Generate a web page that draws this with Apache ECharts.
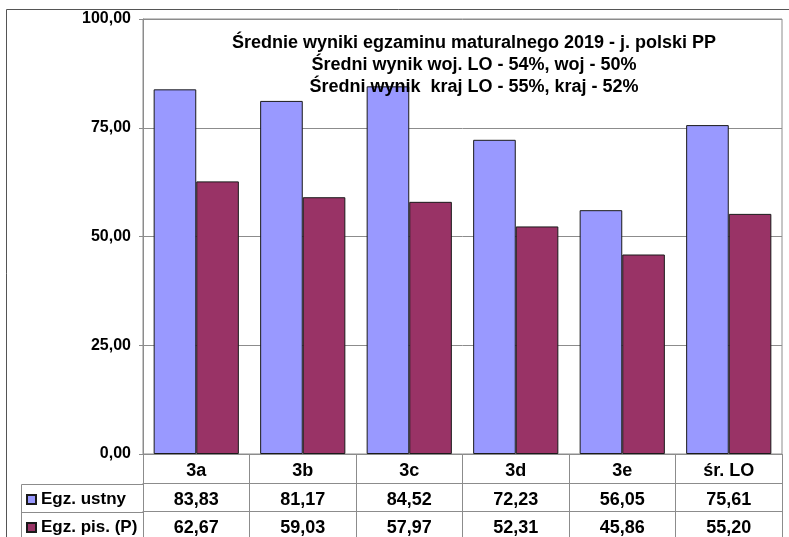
<!DOCTYPE html>
<html lang="pl">
<head>
<meta charset="UTF-8">
<title>Średnie wyniki egzaminu maturalnego 2019</title>
<script src="https://cdn.jsdelivr.net/npm/echarts@6/dist/echarts.min.js"></script>
<style>
  html, body { margin: 0; padding: 0; background: #fff; }
  #chart { width: 789px; height: 537px; }
</style>
</head>
<body>
<div id="chart"></div>
<script>
// dane
var klasy = ['3a', '3b', '3c', '3d', '3e', 'śr. LO'];
var ustny = [83.83, 81.17, 84.52, 72.23, 56.05, 75.61];
var pisemny = [62.67, 59.03, 57.97, 52.31, 45.86, 55.20];
var nazwySerii = ['Egz. ustny', 'Egz. pis. (P)'];
var yTicks = { min: 0, max: 100, step: 25 };
var tytul = 'Średnie wyniki egzaminu maturalnego 2019 - j. polski PP\n' +
            'Średni wynik woj. LO - 54%, woj - 50%\n' +
            'Średni wynik  kraj LO - 55%, kraj - 52%';

var FONT = '"Liberation Sans", Arial, sans-serif';
var GRAY = '#8c8c8c';

function pl(v) {
    return v.toFixed(2).replace('.', ',');
}

var chart = echarts.init(document.getElementById('chart'), null, { renderer: 'canvas' });

var option = {
    animation: false,
    textStyle: { fontFamily: FONT },
    title: {
        text: tytul,
        left: 469,
        top: 27,
        textAlign: 'center',
        textStyle: {
            fontFamily: FONT,
            fontSize: 18,
            fontWeight: 'bold',
            color: '#000',
            lineHeight: 22,
            align: 'center'
        }
    },
    legend: {
        orient: 'vertical',
        left: 26,
        top: 491,
        padding: 0,
        icon: 'rect',
        itemWidth: 9,
        itemHeight: 9,
        itemGap: 11,
        itemTextGap: 5,
        selectedMode: false,
        textStyle: {
            fontFamily: FONT,
            fontSize: 17,
            fontWeight: 'bold',
            color: '#000',
            lineHeight: 17
        },
        data: nazwySerii
    },
    grid: {
        left: 143,
        right: 7,
        top: 19,
        bottom: 82,
        show: true,
        borderColor: GRAY,
        borderWidth: 1
    },
    xAxis: [{
        type: 'category',
        data: klasy,
        position: 'bottom',
        axisLine: { lineStyle: { color: GRAY } },
        axisTick: {
            show: true,
            length: 90,
            interval: 0,
            lineStyle: { color: GRAY }
        },
        axisLabel: {
            margin: 8,
            interval: 0,
            fontFamily: FONT,
            fontSize: 18,
            fontWeight: 'bold',
            color: '#000'
        }
    }, {
        type: 'category',
        data: klasy,
        position: 'bottom',
        offset: 29,
        axisLine: { lineStyle: { color: GRAY } },
        axisTick: { show: false },
        axisLabel: {
            margin: 8,
            interval: 0,
            fontFamily: FONT,
            fontSize: 18,
            fontWeight: 'bold',
            color: '#000',
            formatter: function (v, i) { return pl(ustny[i]); }
        }
    }, {
        type: 'category',
        data: klasy,
        position: 'bottom',
        offset: 57,
        axisLine: { lineStyle: { color: GRAY } },
        axisTick: { show: false },
        axisLabel: {
            margin: 8,
            interval: 0,
            fontFamily: FONT,
            fontSize: 18,
            fontWeight: 'bold',
            color: '#000',
            formatter: function (v, i) { return pl(pisemny[i]); }
        }
    }],
    yAxis: {
        type: 'value',
        min: yTicks.min,
        max: yTicks.max,
        interval: yTicks.step,
        axisLine: { show: true, lineStyle: { color: GRAY } },
        axisTick: { show: true, length: 4, lineStyle: { color: GRAY } },
        splitLine: { show: true, lineStyle: { color: GRAY, width: 1 } },
        axisLabel: {
            margin: 12,
            fontFamily: FONT,
            fontSize: 16,
            fontWeight: 'bold',
            color: '#000',
            formatter: pl
        }
    },
    series: [{
        name: nazwySerii[0],
        type: 'bar',
        data: ustny,
        barGap: '0%',
        barCategoryGap: '20%',
        itemStyle: { color: '#9999ff', borderColor: '#1a1a1a', borderWidth: 1 }
    }, {
        name: nazwySerii[1],
        type: 'bar',
        data: pisemny,
        barGap: '0%',
        barCategoryGap: '20%',
        itemStyle: { color: '#993366', borderColor: '#1a1a1a', borderWidth: 1 }
    }],
    graphic: [{
        // ramka obszaru wykresu
        type: 'rect',
        shape: { x: 6.5, y: 9.5, width: 820, height: 600 },
        style: { fill: 'none', stroke: '#555', lineWidth: 1 },
        silent: true
    }, {
        // ramka kolumny legendy tabeli
        type: 'polyline',
        shape: { points: [[143, 484.5], [21.5, 484.5], [21.5, 560]] },
        style: { fill: 'none', stroke: GRAY, lineWidth: 1 },
        silent: true
    }, {
        type: 'line',
        shape: { x1: 21.5, y1: 512.5, x2: 143, y2: 512.5 },
        style: { stroke: GRAY, lineWidth: 1 },
        silent: true
    }]
};

chart.setOption(option);
</script>
</body>
</html>
